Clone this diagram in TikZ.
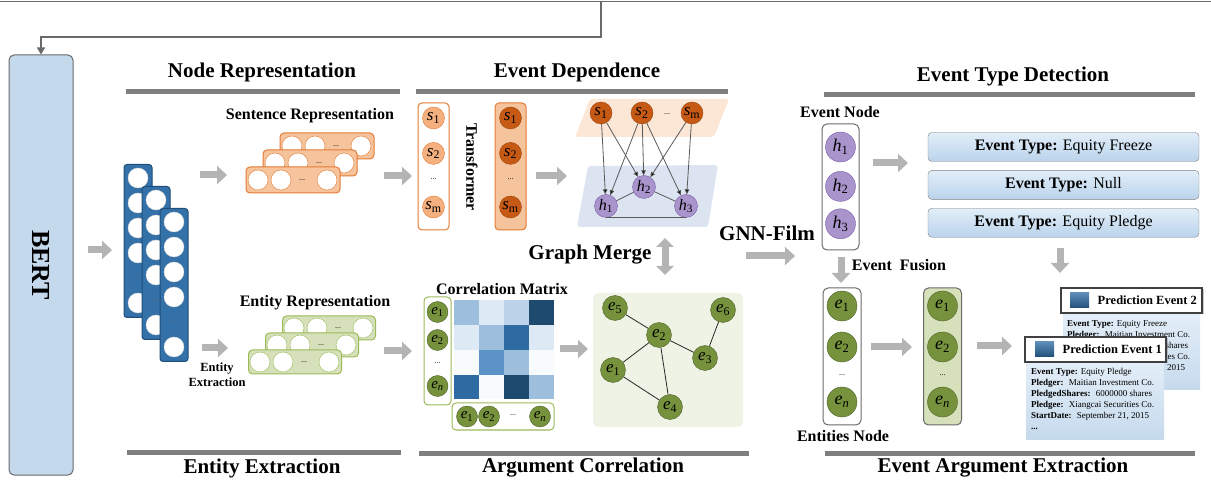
\documentclass[tikz,border=0pt]{standalone}
\usepackage{fontspec}
\setmainfont{Liberation Serif}
\usetikzlibrary{positioning,arrows.meta,shadows}

\definecolor{bertblue}{HTML}{C5D9EC}
\definecolor{framegray}{HTML}{6A6A6A}
\definecolor{arrowgray}{HTML}{B4B4B4}
\definecolor{bargray}{HTML}{7F7F7F}
\definecolor{depgray}{HTML}{595959}
\definecolor{colblue}{HTML}{3471A8}
\definecolor{colline}{HTML}{1F4E79}
\definecolor{orline}{HTML}{E37B35}
\definecolor{orfill}{HTML}{F5C39C}
\definecolor{orlight}{HTML}{F4B07E}
\definecolor{ordark}{HTML}{C65A14}
\definecolor{peach}{HTML}{FCE6D6}
\definecolor{lavender}{HTML}{DCE3F1}
\definecolor{purfill}{HTML}{A994CC}
\definecolor{purline}{HTML}{7A5CA8}
\definecolor{grline}{HTML}{9BBB59}
\definecolor{grfill}{HTML}{D6E0BA}
\definecolor{enfill}{HTML}{76923C}
\definecolor{enline}{HTML}{4F6228}
\definecolor{panel}{HTML}{EFF3E6}
\definecolor{typetop}{HTML}{E2EEF9}
\definecolor{typebot}{HTML}{BAD3EB}
\definecolor{cardtop}{HTML}{E3EEF8}
\definecolor{cardbot}{HTML}{C6DAED}
\definecolor{mDark}{HTML}{1F4A70}
\definecolor{mMid}{HTML}{2E6BA3}
\definecolor{mMed}{HTML}{5B93C8}
\definecolor{mLM}{HTML}{9DBEDC}
\definecolor{mL}{HTML}{BCD3E9}
\definecolor{mVL}{HTML}{DDEAF5}
\definecolor{mW}{HTML}{F8FBFD}

\newcommand{\vlab}[2]{\textit{#1}\textsubscript{#2}}

\begin{document}
\begin{tikzpicture}[x=1pt,y=-1pt,
    bertbox/.style={draw=framegray, fill=bertblue, rounded corners=5pt, line width=1pt},
    veccol/.style={draw=colline, fill=colblue, rounded corners=3pt, line width=1pt, minimum width=28pt, minimum height=153pt},
    unit/.style={circle, fill=white, draw=black!15, minimum size=20pt, inner sep=0pt},
    ellip/.style={font=\fontsize{8}{8}\selectfont, inner sep=0pt},
    srow/.style={draw=orline, fill=orfill, rounded corners=4pt, line width=1pt, minimum width=94pt, minimum height=26pt},
    erow/.style={draw=grline, fill=grfill, rounded corners=4pt, line width=1pt, minimum width=93pt, minimum height=24pt},
    scol/.style={draw=orline, rounded corners=4pt, line width=1pt, minimum width=31pt, minimum height=127pt},
    snode/.style={circle, draw=orline, fill=orlight, minimum size=22pt, inner sep=0pt, font=\fontsize{17}{17}\selectfont},
    sdark/.style={snode, draw=ordark!80!black, fill=ordark},
    hnode/.style={circle, draw=purline, fill=purfill, minimum size=23pt, inner sep=0pt, font=\fontsize{16}{16}\selectfont},
    enode/.style={circle, draw=enline, fill=enfill, minimum size=21pt, inner sep=0pt, font=\fontsize{15}{15}\selectfont},
    bignode/.style={minimum size=30pt, font=\fontsize{18}{18}\selectfont},
    ebox/.style={draw=grline, fill=white, rounded corners=4pt, line width=1pt},
    flow/.style={draw=arrowgray, line width=7pt, -{Triangle[length=10pt,width=18pt]}},
    dep/.style={draw=depgray, line width=0.8pt, -{Triangle[length=5pt,width=4.5pt]}},
    link/.style={draw=black!85, line width=0.8pt},
    title/.style={font=\fontsize{21}{21}\selectfont\bfseries},
    titlebar/.style={draw=bargray, line width=5pt},
    lbl/.style={font=\fontsize{16}{16}\selectfont\bfseries},
    nodebox/.style={draw=framegray, fill=white, rounded corners=5pt, line width=1pt, minimum width=38pt, minimum height=137pt},
    typebox/.style={draw=bargray, rounded corners=4pt, top color=typetop, bottom color=typebot, minimum width=271pt, minimum height=29pt, font=\fontsize{16}{16}\selectfont},
    cardhead/.style={draw=black!75, line width=1.6pt, fill=white, minimum width=141pt, minimum height=25pt, drop shadow={shadow xshift=1.5pt, shadow yshift=-1.5pt, opacity=.4}},
    cardbody/.style={top color=cardtop, bottom color=cardbot, minimum width=138pt, minimum height=77pt},
    cardsq/.style={top color=colblue!80, bottom color=colline, minimum width=19pt, minimum height=15pt, inner sep=0pt},
    cardtext/.style={font=\fontsize{9}{11}\selectfont, align=left, anchor=north west, inner sep=0pt}
  ]
\useasboundingbox (0,0) rectangle (1211,486);

% BERT and the return line
\node[bertbox, minimum width=64pt, minimum height=420pt] (bert) at (41,265) {\rotatebox{-90}{\fontsize{26}{26}\selectfont\bfseries BERT}};
\coordinate (top_l) at (0,1.5);
\coordinate (top_r) at (1211,1.5);
\coordinate (top_j) at (601,1.5);
\coordinate (back) at (601,37);
\draw[framegray, line width=1.6pt] (top_l) -- (top_r);
\draw[framegray, line width=1.6pt, -{Triangle[length=7pt,width=8pt]}] (top_j) -- (back) -| (bert.north);

% section titles
\node[title] (t_node) at (262,72) {Node Representation};
\node[title] (t_dep) at (577,72) {Event Dependence};
\node[title] (t_type) at (1013,76) {Event Type Detection};
\node[title] (t_ent) at (262,468) {Entity Extraction};
\node[title] (t_arg) at (583,468) {Argument Correlation};
\node[title] (t_eae) at (1003,468) {Event Argument Extraction};
\draw[titlebar] (126,92) -- (400,92);
\draw[titlebar] (416,92) -- (728,92);
\draw[titlebar] (824,95) -- (1195,95);
\draw[titlebar] (127,452) -- (401,452);
\draw[titlebar] (419,453) -- (749,453);
\draw[titlebar] (825,453) -- (1195,453);

% token vectors
\foreach \k/\x/\y in {1/138/241, 2/156/263, 3/174/285} {
  \node[veccol] (col_\k) at (\x,\y) {};
  \foreach \r in {0,1,2,3,5}
    \node[unit] at (\x,\y-63+25*\r) {};
  \node[ellip, text=black!60] at (\x,\y+37) {...};
}

% sentence / entity representation
\node[lbl] (l_sent) at (310,116) {Sentence Representation};
\foreach \k/\x/\y in {3/327/146, 2/310/163, 1/293/180} {
  \node[srow] (srow_\k) at (\x,\y) {};
  \foreach \d in {-35,-12,34} \node[unit, draw=orline] at (\x+\d,\y) {};
  \node[ellip] at (\x+9,\y) {...};
}
\node[lbl] (l_ent) at (315,303) {Entity Representation};
\foreach \k/\x/\y in {3/329/328, 2/312/345, 1/295/362} {
  \node[erow] (erow_\k) at (\x,\y) {};
  \foreach \d in {-35,-12,34} \node[unit, draw=grline] at (\x+\d,\y) {};
  \node[ellip] at (\x+9,\y) {...};
}
\node[font=\fontsize{12.5}{15}\selectfont\bfseries, align=center] (l_extr) at (217,375) {Entity\\Extraction};

% sentence columns and transformer
\node[scol, fill=white] (scol_a) at (433.5,166.5) {};
\node[snode] (sa_1) at (433.5,118) {\vlab{s}{1}};
\node[snode] (sa_2) [below=13pt of sa_1] {\vlab{s}{2}};
\node[ellip] (sa_d) at (433.5,179) {...};
\node[snode] (sa_m) at (433.5,207) {\vlab{s}{m}};
\node[lbl, rotate=-90] (tf) at (472,167) {Transformer};
\node[scol, fill=orfill] (scol_b) at (510.5,166.5) {};
\node[sdark] (sb_1) at (510.5,118) {\vlab{s}{1}};
\node[sdark] (sb_2) [below=13pt of sb_1] {\vlab{s}{2}};
\node[ellip] (sb_d) at (510.5,179) {...};
\node[sdark] (sb_m) at (510.5,207) {\vlab{s}{m}};

% event dependence graph
\fill[peach, rounded corners=3pt] (590,99) -- (729,99) -- (714,137) -- (575,137) -- cycle;
\fill[lavender, rounded corners=3pt] (588,166) -- (718,165) -- (708,227) -- (577,227) -- cycle;
\node[sdark] (gs_1) at (601,113) {\vlab{s}{1}};
\node[sdark] (gs_2) at (642,113) {\vlab{s}{2}};
\node[ellip] (gs_d) at (667,114) {...};
\node[sdark] (gs_m) at (692,113) {\vlab{s}{m}};
\node[hnode] (gh_2) at (644,187) {\vlab{h}{2}};
\node[hnode] (gh_1) at (606,206) {\vlab{h}{1}};
\node[hnode] (gh_3) at (686,206) {\vlab{h}{3}};
\path[dep]
  (gs_1) edge (gh_1) edge (gh_2)
  (gs_2) edge (gh_1) edge (gh_2) edge (gh_3)
  (gs_m) edge (gh_2) edge (gh_3);
\draw[depgray, line width=0.8pt] (gh_1) -- (gh_2) -- (gh_3);
\draw[depgray, line width=0.8pt] (gh_1.south) -- (gh_3.south);

\node[title] (gm) at (590,255) {Graph Merge};
\coordinate (gm_t) at (665,238);
\coordinate (gm_b) at (665,275);
\draw[flow, {Triangle[length=9pt,width=17pt]}-{Triangle[length=9pt,width=17pt]}] (gm_t) -- (gm_b);

% correlation matrix
\node[lbl] (l_cm) at (502,289) {Correlation Matrix};
\node[ebox, minimum width=27pt, minimum height=108pt] (ecol) at (437.5,351) {};
\node[enode] (ec_1) at (437.5,312) {\vlab{e}{1}};
\node[enode] (ec_2) at (437.5,340) {\vlab{e}{2}};
\node[ellip] (ec_d) at (437.5,363) {...};
\node[enode] (ec_n) at (437.5,386) {\vlab{e}{\textit{n}}};
\foreach \c [count=\j from 0] in {mLM,mVL,mL,mDark} \fill[\c] (454+25*\j,300) rectangle ++(25,25);
\foreach \c [count=\j from 0] in {mVL,mLM,mMid,mVL} \fill[\c] (454+25*\j,325) rectangle ++(25,25);
\foreach \c [count=\j from 0] in {mW,mMed,mLM,mW} \fill[\c] (454+25*\j,350) rectangle ++(25,25);
\foreach \c [count=\j from 0] in {mMid,mW,mDark,mLM} \fill[\c] (454+25*\j,375) rectangle ++(25,24);
\node[ebox, minimum width=102pt, minimum height=27pt] (erow) at (503,416.5) {};
\node[enode] (er_1) at (467,416.5) {\vlab{e}{1}};
\node[enode] (er_2) at (489,416.5) {\vlab{e}{2}};
\node[ellip] (er_d) at (513,415) {...};
\node[enode] (er_n) at (540,416.5) {\vlab{e}{\textit{n}}};

% entity graph
\node[fill=panel, rounded corners=6pt, minimum width=150pt, minimum height=134pt] (panel) at (668,360) {};
\node[enode, minimum size=25pt, font=\fontsize{17}{17}\selectfont] (g_5) at (615,308) {\vlab{e}{5}};
\node[enode, minimum size=25pt, font=\fontsize{17}{17}\selectfont] (g_2) at (659,335) {\vlab{e}{2}};
\node[enode, minimum size=25pt, font=\fontsize{17}{17}\selectfont] (g_6) at (723,310) {\vlab{e}{6}};
\node[enode, minimum size=25pt, font=\fontsize{17}{17}\selectfont] (g_3) at (705,358) {\vlab{e}{3}};
\node[enode, minimum size=25pt, font=\fontsize{17}{17}\selectfont] (g_1) at (613,370) {\vlab{e}{1}};
\node[enode, minimum size=25pt, font=\fontsize{17}{17}\selectfont] (g_4) at (670,407) {\vlab{e}{4}};
\draw[link] (g_5) -- (g_2) -- (g_1) -- (g_4) -- (g_2) -- (g_3) -- (g_6);

% event node / type detection
\node[title] (gnn) at (767,233) {GNN-Film};
\node[lbl] (l_evn) at (840,112) {Event Node};
\node[nodebox, minimum height=126pt, minimum width=37pt] (evbox) at (840.5,187) {};
\node[hnode, bignode] (ev_1) at (840.5,147) {\vlab{h}{1}};
\node[hnode, bignode] (ev_2) [below=9pt of ev_1] {\vlab{h}{2}};
\node[hnode, bignode] (ev_3) [below=7pt of ev_2] {\vlab{h}{3}};
\node[typebox] (ty_1) at (1063.5,147) {\textbf{Event Type:} Equity Freeze};
\node[typebox] (ty_2) [below=8.5pt of ty_1] {\textbf{Event Type:} Null};
\node[typebox] (ty_3) [below=8.5pt of ty_2] {\textbf{Event Type:} Equity Pledge};

% argument extraction
\node[lbl] (l_fus) at (899,265) {Event~~Fusion};
\node[nodebox] (enbox) at (842,356.5) {};
\node[enode, bignode] (en_1) at (842,306) {\vlab{e}{1}};
\node[enode, bignode] (en_2) at (842,347) {\vlab{e}{2}};
\node[ellip] (en_d) at (842,375) {...};
\node[enode, bignode] (en_n) at (842,402) {\vlab{e}{\textit{n}}};
\node[lbl] (l_enn) at (843,436) {Entities Node};
\node[nodebox, fill=grfill] (fubox) at (942.5,356.5) {};
\node[enode, bignode] (fu_1) at (942.5,306) {\vlab{e}{1}};
\node[enode, bignode] (fu_2) at (942.5,347) {\vlab{e}{2}};
\node[ellip] (fu_d) at (942.5,375) {...};
\node[enode, bignode] (fu_n) at (942.5,402) {\vlab{e}{\textit{n}}};

% prediction cards
\node[cardbody, minimum width=137pt] (pb_2) at (1131.5,351.5) {};
\node[cardtext] (px_2) at (1067,320) {\textbf{Event Type:} Equity Freeze\\
  \textbf{Pledger:}~ Maitian Investment Co.\\
  \textbf{PledgedShares:}~ 6000000 shares\\
  \textbf{Pledgee:}~ Xiangcai Securities Co.\\
  \textbf{StartDate:}~ September 21, 2015\\
  \textbf{...}};
\node[cardhead] (ph_2) at (1131.5,300.5) {};
\node[cardsq] (sq_2) at (1079.5,300.5) {};
\node[font=\fontsize{12.5}{12.5}\selectfont\bfseries, right=5pt of sq_2] (pt_2) {Prediction Event 2};
\node[cardbody] (pb_1) at (1095,400.5) {};
\node[cardtext] (px_1) at (1031,368) {\textbf{Event Type:} Equity Pledge\\
  \textbf{Pledger:}~ Maitian Investment Co.\\
  \textbf{PledgedShares:}~ 6000000 shares\\
  \textbf{Pledgee:}~ Xiangcai Securities Co.\\
  \textbf{StartDate:}~ September 21, 2015\\
  \textbf{...}};
\node[cardhead] (ph_1) at (1095.5,349.5) {};
\node[cardsq] (sq_1) at (1044.5,349.5) {};
\node[font=\fontsize{12.5}{12.5}\selectfont\bfseries, right=5pt of sq_1] (pt_1) {Prediction Event 1};

% gray flow arrows
\path (88,250) coordinate (f_1a) (112,250) coordinate (f_1b)
      (200,175) coordinate (f_2a) (227,175) coordinate (f_2b)
      (202,348) coordinate (f_3a) (228,348) coordinate (f_3b)
      (384,176) coordinate (f_4a) (412,176) coordinate (f_4b)
      (384,351) coordinate (f_5a) (412,351) coordinate (f_5b)
      (536,176) coordinate (f_6a) (567,176) coordinate (f_6b)
      (560,349) coordinate (f_7a) (588,349) coordinate (f_7b)
      (746,256) coordinate (f_8a) (795,256) coordinate (f_8b)
      (873,163) coordinate (f_9a) (908,163) coordinate (f_9b)
      (841,257) coordinate (f_10a) (841,283) coordinate (f_10b)
      (1060,248) coordinate (f_11a) (1060,273) coordinate (f_11b)
      (871,347) coordinate (f_12a) (912,347) coordinate (f_12b)
      (977,346) coordinate (f_13a) (1012,346) coordinate (f_13b);
\foreach \n in {1,...,13}
  \draw[flow] (f_\n a) -- (f_\n b);
\end{tikzpicture}
\end{document}
